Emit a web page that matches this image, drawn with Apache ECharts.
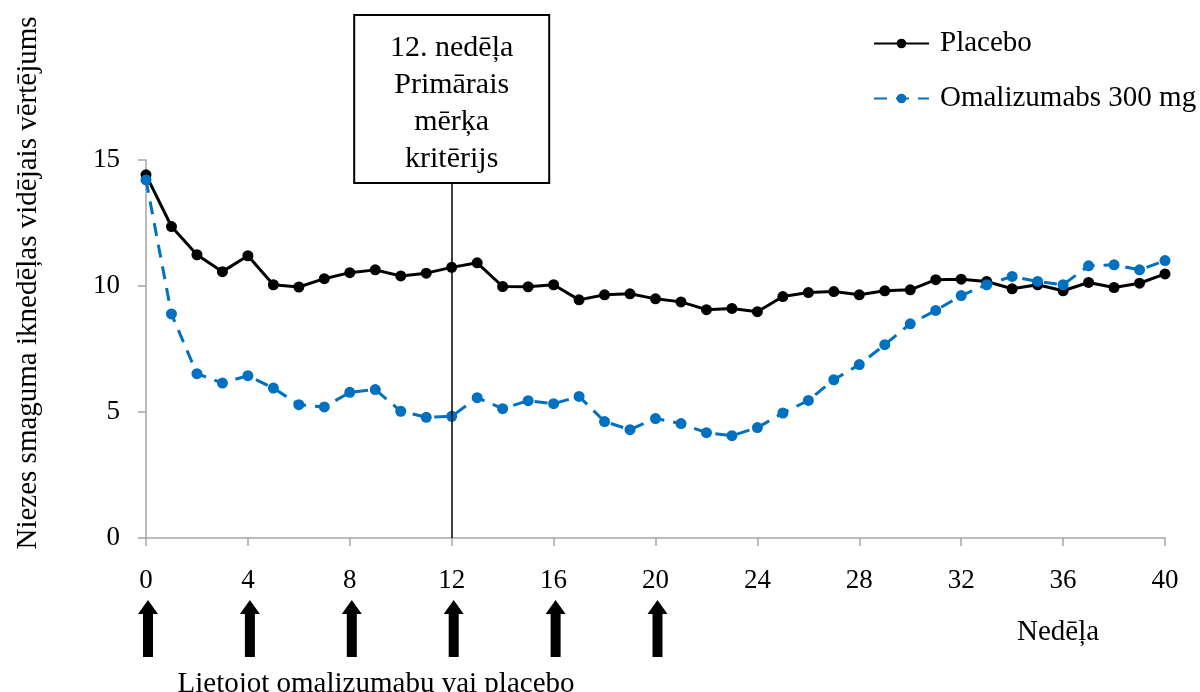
<!DOCTYPE html>
<html>
<head>
<meta charset="utf-8">
<script src="https://cdn.jsdelivr.net/npm/echarts@6/dist/echarts.min.js"></script>
<style>
  html, body { margin: 0; padding: 0; background: #fff; }
  #chart { width: 1200px; height: 692px; }
</style>
</head>
<body>
<div id="chart"></div>
<script>
// Weeks 0..40
const weeks = [0,1,2,3,4,5,6,7,8,9,10,11,12,13,14,15,16,17,18,19,20,21,22,23,24,25,26,27,28,29,30,31,32,33,34,35,36,37,38,39,40];

// Weekly mean itch severity score
const placebo = [14.41,12.36,11.24,10.57,11.20,10.05,9.96,10.29,10.53,10.64,10.40,10.51,10.74,10.92,9.98,9.97,10.05,9.45,9.65,9.69,9.49,9.37,9.06,9.11,8.98,9.58,9.74,9.78,9.65,9.81,9.85,10.25,10.27,10.18,9.89,10.05,9.81,10.14,9.94,10.11,10.48];
const omalizumab = [14.21,8.89,6.52,6.15,6.44,5.95,5.29,5.20,5.78,5.89,5.03,4.79,4.83,5.57,5.13,5.45,5.33,5.62,4.62,4.30,4.74,4.54,4.18,4.06,4.38,4.96,5.46,6.28,6.88,7.67,8.50,9.03,9.62,10.05,10.38,10.18,10.05,10.80,10.84,10.64,11.01];

const seriesNames = ['Placebo', 'Omalizumabs 300 mg'];
const xTicks = { min: 0, max: 40, interval: 4 };
const yTicks = { min: 0, max: 15, interval: 5 };

// Dosing weeks marked with arrows below the axis
const doseWeeks = [0, 4, 8, 12, 16, 20];
const primaryWeek = 12;

const yTitle = 'Niezes smaguma iknedēļas vidējais vērtējums';
const xTitle = 'Nedēļa';
const doseTitle = 'Lietojot omalizumabu vai placebo';
const boxLines = ['12. nedēļa', 'Primārais', 'mērķa', 'kritērijs'];

const FONT = '"Liberation Serif", "Times New Roman", serif';
const BLUE = '#0070C0';
const AXIS_GREY = '#a6a6a6';

const chart = echarts.init(document.getElementById('chart'), null, { renderer: 'canvas' });

const option = {
  animation: false,
  backgroundColor: '#fff',
  grid: { left: 146, right: 35, top: 160, bottom: 154 },
  legend: {
    orient: 'vertical',
    left: 868,
    top: 24,
    itemWidth: 55,
    itemHeight: 12,
    itemGap: 26,
    textStyle: { fontFamily: FONT, fontSize: 29, color: '#000', padding: [0, 0, 0, 6] },
    data: seriesNames
  },
  xAxis: {
    type: 'value',
    min: xTicks.min, max: xTicks.max, interval: xTicks.interval,
    axisLine: { lineStyle: { color: AXIS_GREY, width: 1.5 } },
    axisTick: { show: true, length: 8, lineStyle: { color: AXIS_GREY, width: 1.5 } },
    axisLabel: { fontFamily: FONT, fontSize: 27, color: '#000', margin: 29 },
    splitLine: { show: false }
  },
  yAxis: {
    type: 'value',
    min: yTicks.min, max: yTicks.max, interval: yTicks.interval,
    axisLine: { show: true, lineStyle: { color: AXIS_GREY, width: 1.5 } },
    axisTick: { show: true, length: 8, lineStyle: { color: AXIS_GREY, width: 1.5 } },
    axisLabel: { fontFamily: FONT, fontSize: 27, color: '#000', margin: 26 },
    splitLine: { show: false }
  },
  series: [
    {
      name: seriesNames[0],
      type: 'line',
      data: weeks.map((w, i) => [w, placebo[i]]),
      symbol: 'circle',
      symbolSize: 11,
      itemStyle: { color: '#000' },
      lineStyle: { color: '#000', width: 3 },
      z: 3,
      markLine: {
        silent: true,
        symbol: ['none', 'none'],
        label: { show: false },
        lineStyle: { color: '#000', width: 1.5, type: 'solid' },
        data: [{ xAxis: primaryWeek }]
      }
    },
    {
      name: seriesNames[1],
      type: 'line',
      data: weeks.map((w, i) => [w, omalizumab[i]]),
      symbol: 'circle',
      symbolSize: 11,
      itemStyle: { color: BLUE },
      lineStyle: { color: BLUE, width: 3, type: [13, 9] },
      z: 4
    }
  ]
};

chart.setOption(option);

// Annotations: axis titles, the week-12 box and dosing arrows
function drawAnnotations() {
  const elements = [];
  const x12 = chart.convertToPixel({ xAxisIndex: 0 }, primaryWeek);

  elements.push({
    type: 'text',
    x: 28, y: 283,
    rotation: Math.PI / 2,
    style: { text: yTitle, font: '29px ' + FONT, fill: '#000', align: 'center', verticalAlign: 'middle' }
  });

  elements.push({
    type: 'text',
    x: 1058, y: 632,
    style: { text: xTitle, font: '29px ' + FONT, fill: '#000', align: 'center', verticalAlign: 'middle' }
  });

  elements.push({
    type: 'text',
    x: 376, y: 684,
    style: { text: doseTitle, font: '29px ' + FONT, fill: '#000', align: 'center', verticalAlign: 'middle' }
  });

  // Box with the primary endpoint label
  const boxW = 195, boxH = 168, boxTop = 15;
  elements.push({
    type: 'rect',
    z: 100,
    shape: { x: x12 - boxW / 2, y: boxTop, width: boxW, height: boxH },
    style: { fill: '#fff', stroke: '#000', lineWidth: 2 }
  });
  boxLines.forEach((line, i) => {
    elements.push({
      type: 'text',
      z: 101,
      x: x12, y: 48 + i * 37,
      style: { text: line, font: '30px ' + FONT, fill: '#000', align: 'center', verticalAlign: 'middle' }
    });
  });

  // Dosing arrows
  const tipY = 600, headBase = 614, bottomY = 657, headHalf = 10, shaftHalf = 5;
  doseWeeks.forEach(w => {
    const cx = chart.convertToPixel({ xAxisIndex: 0 }, w) + 2;
    elements.push({
      type: 'polygon',
      shape: {
        points: [
          [cx, tipY],
          [cx + headHalf, headBase],
          [cx + shaftHalf, headBase],
          [cx + shaftHalf, bottomY],
          [cx - shaftHalf, bottomY],
          [cx - shaftHalf, headBase],
          [cx - headHalf, headBase]
        ]
      },
      style: { fill: '#000' }
    });
  });

  chart.setOption({ graphic: { elements } });
}

drawAnnotations();
</script>
</body>
</html>
